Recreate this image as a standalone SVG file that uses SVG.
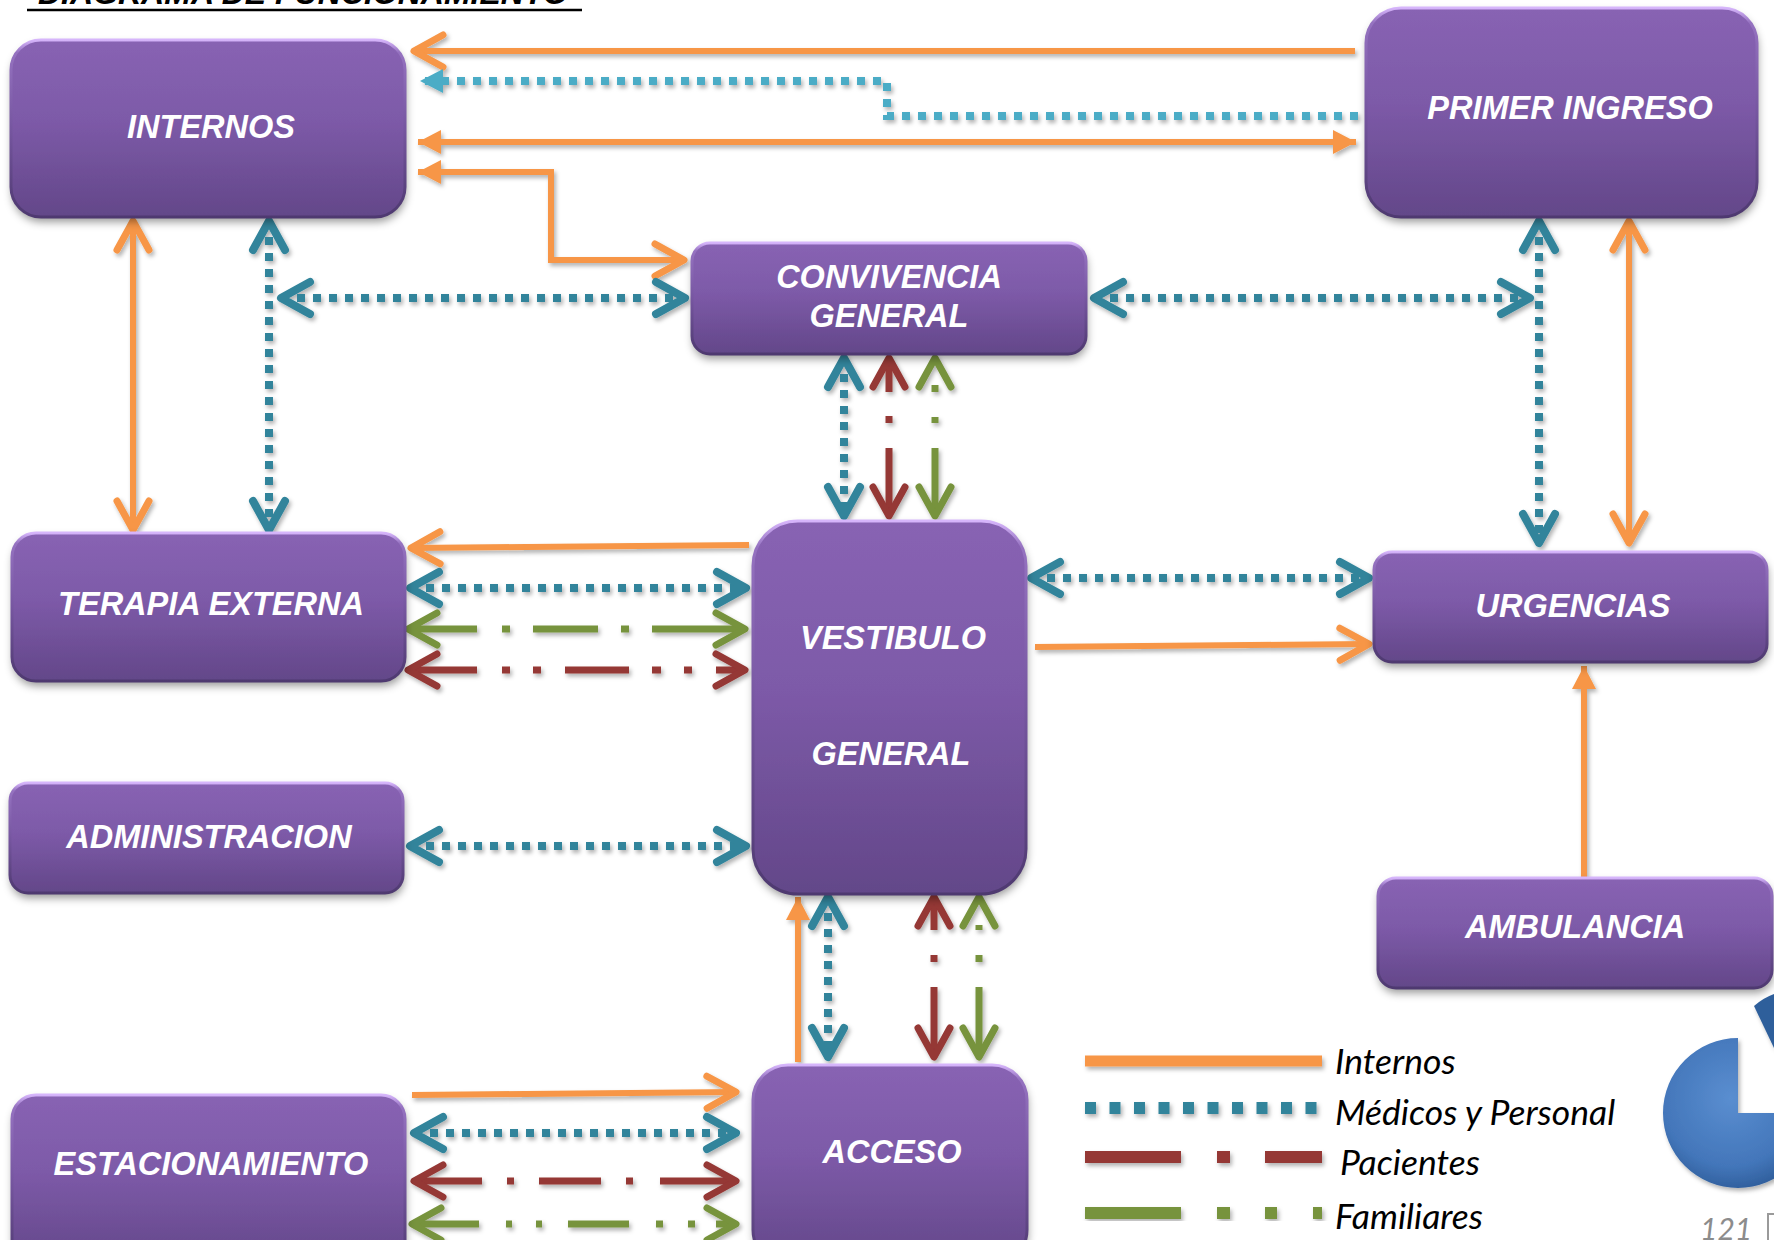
<svg xmlns="http://www.w3.org/2000/svg" width="1774" height="1240" viewBox="0 0 1774 1240">
<style>
.box{fill:url(#gBox);filter:url(#shBox);}
.edge{fill:none;stroke:url(#gEdge);stroke-width:3;}
.lbl{font-family:"Liberation Sans",Arial,sans-serif;font-weight:bold;font-style:italic;font-size:32.5px;fill:#fff;text-anchor:middle;}
.or{fill:none;stroke:#F79646;stroke-width:6;}
.tl{fill:none;stroke:#31849B;stroke-width:8;stroke-dasharray:8 8;}
.lt{fill:none;stroke:#4BACC6;stroke-width:8;stroke-dasharray:8 8;}
.rd{fill:none;stroke:#953735;stroke-width:7;}
.gr{fill:none;stroke:#77933C;stroke-width:7;}
.leg{font-family:Lato,"Open Sans",sans-serif;font-style:italic;font-size:35.5px;fill:#000;}
</style>
<defs>
<linearGradient id="gBox" x1="0" y1="0" x2="0" y2="1">
<stop offset="0" stop-color="#8863B3"/>
<stop offset="0.45" stop-color="#7D5AA8"/>
<stop offset="1" stop-color="#634789"/>
</linearGradient>
<linearGradient id="gEdge" x1="0" y1="0" x2="0" y2="1">
<stop offset="0" stop-color="#D6B5FB"/>
<stop offset="0.07" stop-color="#9572C0"/>
<stop offset="0.5" stop-color="#7656A0"/>
<stop offset="1" stop-color="#4E3970"/>
</linearGradient>
<radialGradient id="gPie" cx="0.45" cy="0.4" r="0.65">
<stop offset="0" stop-color="#5A8ED0"/>
<stop offset="0.7" stop-color="#4376BA"/>
<stop offset="1" stop-color="#2C5A96"/>
</radialGradient>
<filter id="shBox" x="-10%" y="-10%" width="120%" height="130%">
<feDropShadow dx="1" dy="5" stdDeviation="4" flood-color="#000" flood-opacity="0.4"/>
</filter>
<filter id="shLn" x="-5%" y="-5%" width="110%" height="110%">
<feDropShadow dx="2" dy="3" stdDeviation="2" flood-color="#000" flood-opacity="0.3"/>
</filter>
<marker id="cO" viewBox="-40 -22 46 44" refX="0" refY="0" markerWidth="46" markerHeight="44" markerUnits="userSpaceOnUse" orient="auto-start-reverse"><path d="M-29,-16 L0,0 L-29,16" fill="none" stroke="#F79646" stroke-width="7" stroke-linecap="round" stroke-linejoin="round"/></marker>
<marker id="cT" viewBox="-40 -22 46 44" refX="0" refY="0" markerWidth="46" markerHeight="44" markerUnits="userSpaceOnUse" orient="auto-start-reverse"><path d="M-29,-16 L0,0 L-29,16" fill="none" stroke="#31849B" stroke-width="8" stroke-linecap="round" stroke-linejoin="round"/></marker>
<marker id="cR" viewBox="-40 -22 46 44" refX="0" refY="0" markerWidth="46" markerHeight="44" markerUnits="userSpaceOnUse" orient="auto-start-reverse"><path d="M-29,-16 L0,0 L-29,16" fill="none" stroke="#953735" stroke-width="7" stroke-linecap="round" stroke-linejoin="round"/></marker>
<marker id="cG" viewBox="-40 -22 46 44" refX="0" refY="0" markerWidth="46" markerHeight="44" markerUnits="userSpaceOnUse" orient="auto-start-reverse"><path d="M-29,-16 L0,0 L-29,16" fill="none" stroke="#77933C" stroke-width="7" stroke-linecap="round" stroke-linejoin="round"/></marker>
<marker id="fO" viewBox="-26 -14 28 28" refX="0" refY="0" markerWidth="28" markerHeight="28" markerUnits="userSpaceOnUse" orient="auto-start-reverse"><path d="M-23,-12 L0,0 L-23,12 Z" fill="#F79646"/></marker>
<marker id="fL" viewBox="-26 -14 28 28" refX="0" refY="0" markerWidth="28" markerHeight="28" markerUnits="userSpaceOnUse" orient="auto-start-reverse"><path d="M-23,-12 L0,0 L-23,12 Z" fill="#4BACC6"/></marker>
</defs>
<rect width="1774" height="1240" fill="#fff"/>

<g id="title">
<text x="38" y="4" font-family="Liberation Sans,Arial,sans-serif" font-weight="bold" font-style="italic" font-size="32" fill="#000">DIAGRAMA DE FUNCIONAMIENTO</text>
<line x1="27" y1="10" x2="582" y2="10" stroke="#000" stroke-width="2.5"/>
</g>

<g id="connectors" filter="url(#shLn)">
<path class="or" d="M1355,51 H414" marker-end="url(#cO)"/>
<path class="lt" d="M1358,116 H887 V81 H420" marker-end="url(#fL)"/>
<path class="or" d="M418,142 H1356" marker-start="url(#fO)" marker-end="url(#fO)"/>
<path class="or" d="M418,172 H551 V260 H684" marker-start="url(#fO)" marker-end="url(#cO)"/>
<path class="or" d="M133,221 V530" marker-start="url(#cO)" marker-end="url(#cO)"/>
<path class="tl" d="M269,221 V530" marker-start="url(#cT)" marker-end="url(#cT)"/>
<path class="tl" d="M281,298 H685" marker-start="url(#cT)" marker-end="url(#cT)"/>
<path class="tl" d="M1094,298 H1530" marker-start="url(#cT)" marker-end="url(#cT)"/>
<path class="tl" d="M1539,221 V543" marker-start="url(#cT)" marker-end="url(#cT)"/>
<path class="or" d="M1629,221 V543" marker-start="url(#cO)" marker-end="url(#cO)"/>
<path class="tl" d="M844,358 V516" marker-start="url(#cT)" marker-end="url(#cT)"/>
<path class="rd" d="M889,358 V392 M889,416 V423 M889,448 V516" marker-start="url(#cR)" marker-end="url(#cR)"/>
<path class="gr" d="M935,358 V359 M935,385 V392 M935,417 V423 M935,448 V516" marker-start="url(#cG)" marker-end="url(#cG)"/>
<path class="or" d="M749,545 L411,548" marker-end="url(#cO)"/>
<path class="tl" d="M410,588 H746" marker-start="url(#cT)" marker-end="url(#cT)"/>
<path class="gr" d="M408,629 H477 M502,629 H510 M533,629 H598 M621,629 H629 M652,629 H745" marker-start="url(#cG)" marker-end="url(#cG)"/>
<path class="rd" d="M408,670 H477 M502,670 H510 M533,670 H541 M565,670 H629 M652,670 H661 M684,670 H692 M716,670 H745" marker-start="url(#cR)" marker-end="url(#cR)"/>
<path class="tl" d="M410,846 H746" marker-start="url(#cT)" marker-end="url(#cT)"/>
<path class="tl" d="M1031,578 H1369" marker-start="url(#cT)" marker-end="url(#cT)"/>
<path class="or" d="M1035,647 L1369,644" marker-end="url(#cO)"/>
<path class="or" d="M1584,878 V666" marker-end="url(#fO)"/>
<path class="or" d="M798,1062 V897" marker-end="url(#fO)"/>
<path class="tl" d="M828,897 V1057" marker-start="url(#cT)" marker-end="url(#cT)"/>
<path class="rd" d="M934,897 V930 M934,955 V962 M934,987 V1057" marker-start="url(#cR)" marker-end="url(#cR)"/>
<path class="gr" d="M979,897 V898 M979,925 V930 M979,955 V962 M979,987 V1057" marker-start="url(#cG)" marker-end="url(#cG)"/>
<path class="or" d="M412,1095 L736,1092" marker-end="url(#cO)"/>
<path class="tl" d="M414,1133 H736" marker-start="url(#cT)" marker-end="url(#cT)"/>
<path class="rd" d="M414,1181 H482 M507,1181 H514 M539,1181 H601 M626,1181 H633 M660,1181 H736" marker-start="url(#cR)" marker-end="url(#cR)"/>
<path class="gr" d="M412,1224 H479 M506,1224 H512 M536,1224 H542 M568,1224 H629 M656,1224 H663 M688,1224 H695 M716,1224 H736" marker-start="url(#cG)" marker-end="url(#cG)"/>
</g>

<g id="internos"><rect class="box" x="11" y="40" width="394" height="177" rx="30"/><rect class="edge" x="11" y="40" width="394" height="177" rx="30"/><text class="lbl" x="211" y="138">INTERNOS</text></g>
<g id="primer-ingreso"><rect class="box" x="1366" y="8" width="391" height="209" rx="35"/><rect class="edge" x="1366" y="8" width="391" height="209" rx="35"/><text class="lbl" x="1570" y="119">PRIMER INGRESO</text></g>
<g id="convivencia-general"><rect class="box" x="692" y="243" width="394" height="111" rx="18"/><rect class="edge" x="692" y="243" width="394" height="111" rx="18"/><text class="lbl" x="889" y="288">CONVIVENCIA</text><text class="lbl" x="889" y="327">GENERAL</text></g>
<g id="terapia-externa"><rect class="box" x="12" y="533" width="393" height="148" rx="24"/><rect class="edge" x="12" y="533" width="393" height="148" rx="24"/><text class="lbl" x="211" y="615">TERAPIA EXTERNA</text></g>
<g id="vestibulo-general"><rect class="box" x="753" y="521" width="273" height="373" rx="45"/><rect class="edge" x="753" y="521" width="273" height="373" rx="45"/><text class="lbl" x="893" y="649">VESTIBULO</text><text class="lbl" x="891" y="765">GENERAL</text></g>
<g id="urgencias"><rect class="box" x="1374" y="552" width="393" height="110" rx="18"/><rect class="edge" x="1374" y="552" width="393" height="110" rx="18"/><text class="lbl" x="1573" y="617">URGENCIAS</text></g>
<g id="administracion"><rect class="box" x="10" y="783" width="393" height="110" rx="18"/><rect class="edge" x="10" y="783" width="393" height="110" rx="18"/><text class="lbl" x="209" y="848">ADMINISTRACION</text></g>
<g id="ambulancia"><rect class="box" x="1378" y="878" width="394" height="110" rx="18"/><rect class="edge" x="1378" y="878" width="394" height="110" rx="18"/><text class="lbl" x="1575" y="938">AMBULANCIA</text></g>
<g id="acceso"><rect class="box" x="753" y="1065" width="274" height="200" rx="35"/><rect class="edge" x="753" y="1065" width="274" height="200" rx="35"/><text class="lbl" x="892" y="1163">ACCESO</text></g>
<g id="estacionamiento"><rect class="box" x="12" y="1095" width="393" height="170" rx="24"/><rect class="edge" x="12" y="1095" width="393" height="170" rx="24"/><text class="lbl" x="211" y="1175">ESTACIONAMIENTO</text></g>

<g id="legend" >
<g filter="url(#shLn)">
<path d="M1085,1061 H1322" stroke="#F79646" stroke-width="11" fill="none"/>
<path d="M1085,1108 H1322" stroke="#31849B" stroke-width="12" stroke-dasharray="11 13.5" fill="none"/>
<path d="M1085,1157 H1181 M1217,1157 H1230 M1265,1157 H1322" stroke="#953735" stroke-width="12" fill="none"/>
<path d="M1085,1213 H1181 M1217,1213 H1230 M1265,1213 H1277 M1313,1213 H1322" stroke="#77933C" stroke-width="12" fill="none"/>
</g>
<text class="leg" x="1335" y="1074">Internos</text>
<text class="leg" x="1335" y="1125">Médicos y Personal</text>
<text class="leg" x="1340" y="1175">Pacientes</text>
<text class="leg" x="1335" y="1229">Familiares</text>
</g>

<g id="pie" filter="url(#shLn)">
<path d="M1738,1113 L1738,1038 A75,75 0 1 0 1813,1113 Z" fill="url(#gPie)"/>
<path d="M1754,1006 L1774,1048 L1774,994 Q1763,998 1754,1006 Z" fill="#2F5F9B"/>
</g>
<g id="page">
<text x="1700" y="1240" font-family="Lato,'Open Sans',sans-serif" font-style="italic" font-size="30" fill="#8C8C8C">121</text>
<path d="M1768,1240 V1214 H1774" fill="none" stroke="#9A9A9A" stroke-width="2"/>
</g>
</svg>
